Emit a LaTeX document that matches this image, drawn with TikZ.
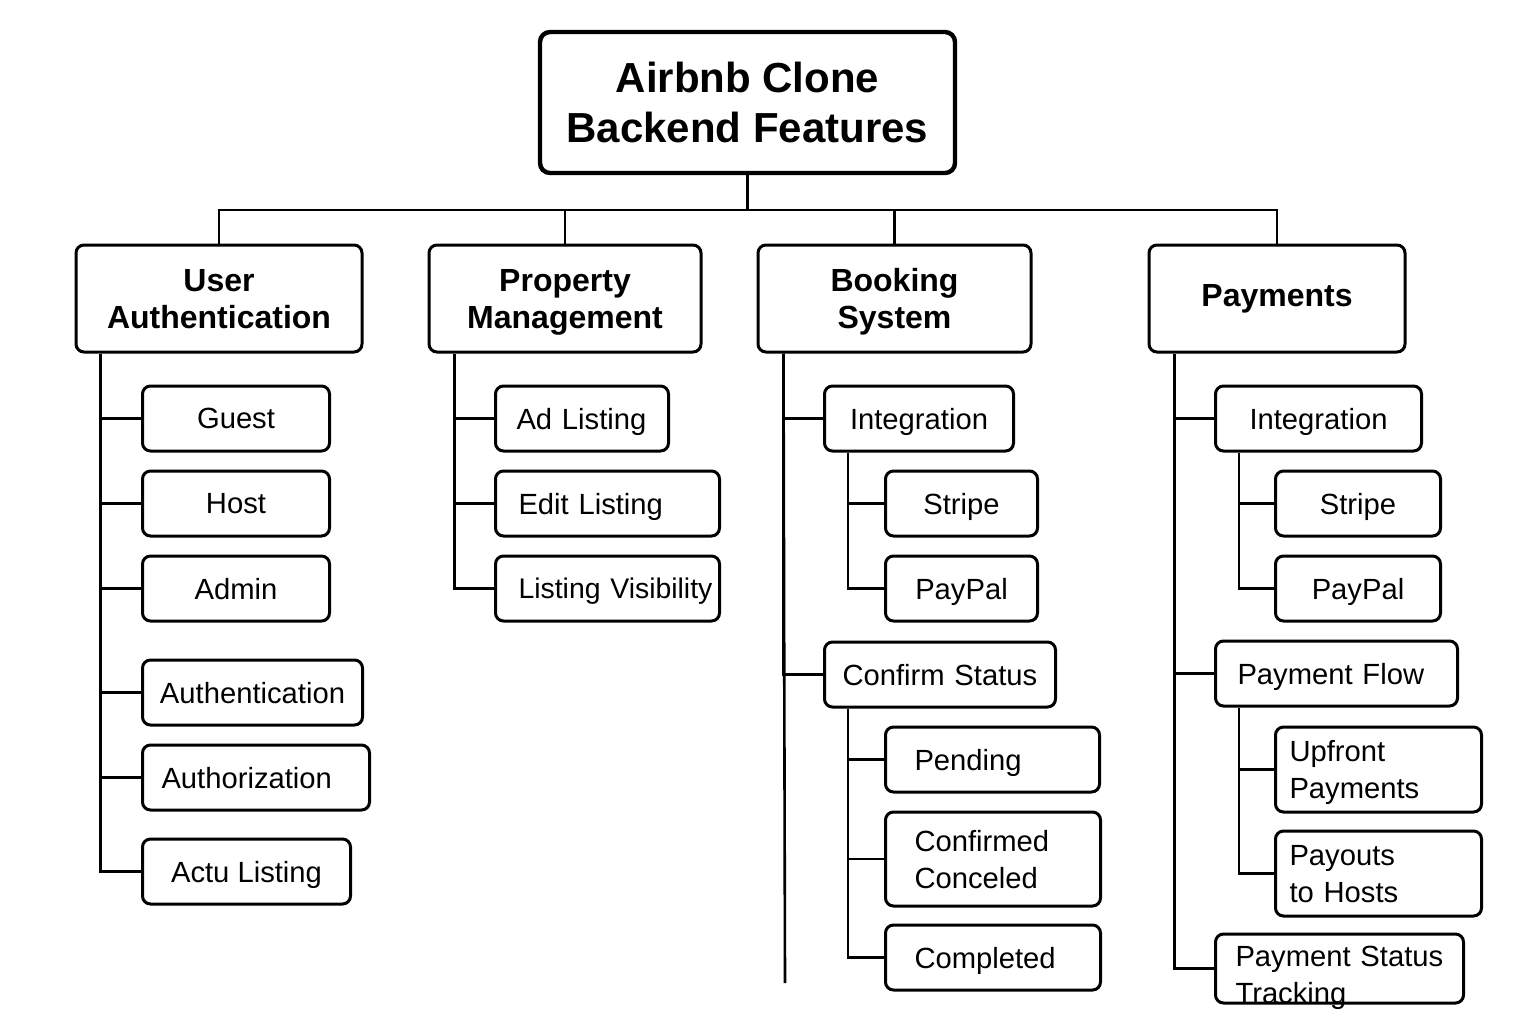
\documentclass[tikz,border=0pt]{standalone}
\usepackage{fontspec}
\setmainfont{Liberation Sans}
\usetikzlibrary{positioning}

\begin{document}
\begin{tikzpicture}[x=0.5pt,y=-0.5pt,line width=1.3pt,
    rootbox/.style={draw,rounded corners=5pt,line width=2.2pt,minimum width=207.5pt,
        minimum height=70.5pt,align=center,font=\fontsize{21}{25}\selectfont\bfseries},
    catbox/.style={draw,rounded corners=4pt,line width=1.5pt,minimum height=53.5pt,
        align=center,text depth=0pt,font=\fontsize{16}{18.5}\selectfont\bfseries},
    leaf/.style={draw,rounded corners=4pt,line width=1.5pt,minimum height=32.5pt,
        anchor=west,align=center,text depth=0pt,font=\fontsize{14.6}{18.5}\selectfont},
    lleaf/.style={leaf,align=left,inner xsep=11pt,text width=#1},
    twolines/.style={text depth=18.5pt}]
\useasboundingbox (0,0) rectangle (1536,1024);

\node[rootbox] (root) at (747.5,102.5) {Airbnb Clone\\Backend Features};
\coordinate (bus) at (748,210);

\node[catbox,minimum width=143pt] (ua) at (219,298.5) {User\\Authentication};
\node[catbox,minimum width=136pt] (pm) at (565,298.5) {Property\\Management};
\node[catbox,minimum width=136.5pt] (bs) at (894.5,298.5) {Booking\\System};
\node[catbox,minimum width=128pt,text depth={}] (pay) at (1277,298.5) {Payments};

% user authentication
\node[leaf,minimum width=93.5pt] (guest) at (141,418.5) {Guest};
\node[leaf,minimum width=93.5pt] (host) at (141,503.5) {Host};
\node[leaf,minimum width=93.5pt] (admin) at (141,588.5) {Admin};
\node[leaf,minimum width=110pt] (authn) at (141,692.5) {Authentication};
\node[lleaf=94.5pt,inner xsep=9.5pt] (authz) at (141,777.5) {Authorization};
\node[leaf,minimum width=104pt] (actu) at (141,871.5) {Actu Listing};

% property management
\node[lleaf=65.5pt,inner xsep=10.5pt] (adl) at (494,418.5) {Ad Listing};
\node[lleaf=89pt,inner xsep=11.5pt] (edl) at (494,503.5) {Edit Listing};
\node[lleaf=89pt,inner xsep=11.5pt] (lvis) at (494,588.5) {\fontsize{14.2}{18.5}\selectfont\mbox{Listing Visibility}};

% booking system
\node[leaf,minimum width=94.5pt] (bint) at (823,418.5) {Integration};
\node[leaf,minimum width=76pt] (bstr) at (884,503.5) {Stripe};
\node[leaf,minimum width=76pt] (bpp) at (884,588.5) {PayPal};
\node[lleaf=97.5pt,inner xsep=9pt] (bcon) at (823,674.5) {\mbox{Confirm Status}};
\node[lleaf=78pt,inner xsep=14.5pt] (bpend) at (884,759.5) {Pending};
\node[lleaf=78.5pt,inner xsep=14.5pt,minimum height=47pt,twolines] (bconf) at (884,859) {Confirmed\\Conceled};
\node[lleaf=78.5pt,inner xsep=14.5pt] (bcomp) at (884,957.5) {Completed};
\coordinate (bsend) at (785,983);

% payments
\node[leaf,minimum width=103pt] (pint) at (1214,418.5) {Integration};
\node[leaf,minimum width=82.5pt] (pstr) at (1274,503.5) {Stripe};
\node[leaf,minimum width=82.5pt] (ppp) at (1274,588.5) {PayPal};
\node[lleaf=99pt] (pflow) at (1214,673.5) {Payment Flow};
\node[lleaf=89pt,inner xsep=7pt,minimum height=42.5pt,twolines] (pup) at (1274,769.5) {Upfront\\Payments};
\node[lleaf=89pt,inner xsep=7pt,minimum height=42.5pt,twolines] (pout) at (1274,873.5) {Payouts\\to Hosts};
\node[lleaf=104pt,inner xsep=10pt,inner ysep=0pt,minimum height=34.5pt,
    text height=16pt,text depth=18pt] (pst) at (1214,968.5) {\mbox{Payment Status}\\Tracking};

\draw (root.south) -- (root.south |- bus);
\foreach \c in {ua,pm,bs,pay}
    \draw (\c.north) |- (bus);

\foreach \c in {guest,host,admin,authn,authz,actu}
    \draw ([xshift=13pt]ua.south west) |- (\c.west);
\foreach \c in {adl,edl,lvis}
    \draw ([xshift=13.5pt]pm.south west) |- (\c.west);

\draw ([xshift=13.5pt]bs.south west) -- (bsend);
\foreach \c in {bint,bcon}
    \draw ([xshift=13.5pt]bs.south west) |- (\c.west);
\foreach \c in {bstr,bpp}
    \draw ([xshift=12.5pt]bint.south west) |- (\c.west);
\foreach \c in {bpend,bconf,bcomp}
    \draw ([xshift=12.5pt]bcon.south west) |- (\c.west);

\foreach \c in {pint,pflow,pst}
    \draw ([xshift=13.5pt]pay.south west) |- (\c.west);
\foreach \c in {pstr,ppp}
    \draw ([xshift=12.5pt]pint.south west) |- (\c.west);
\foreach \c in {pup,pout}
    \draw ([xshift=12.5pt]pflow.south west) |- (\c.west);
\end{tikzpicture}
\end{document}
